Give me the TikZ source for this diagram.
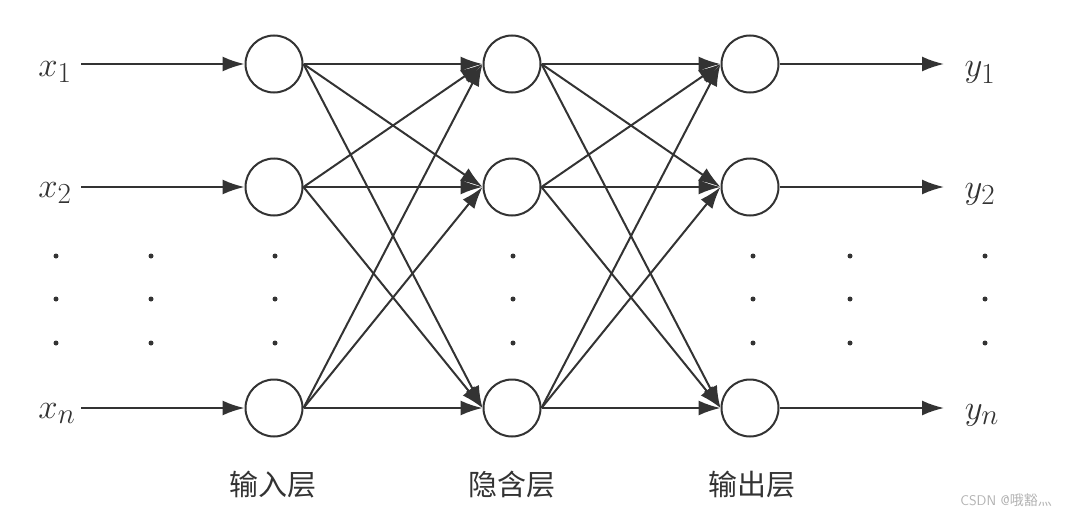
\documentclass[tikz,border=0pt]{standalone}
\usepackage{fontspec}
\newfontfamily\cjk{Noto Sans CJK SC}
\usetikzlibrary{arrows.meta}
\definecolor{ink}{HTML}{333333}
\begin{document}
\begin{tikzpicture}[x=1pt,y=-1pt,
  neuron/.style={circle,draw=ink,line width=2pt,minimum size=57pt,inner sep=0pt},
  conn/.style={draw=ink,line width=2pt,-{Latex[length=22pt,width=15pt]}},
  lbl/.style={text=ink,font=\Huge,scale=1.4,anchor=base,inner sep=0pt},
  layerlbl/.style={text=ink,font=\cjk\fontsize{29}{32}\selectfont,inner sep=0pt},
  dotmark/.style={circle,fill=ink,minimum size=5pt,inner sep=0pt}]
\useasboundingbox (0,0) rectangle (1065,519);
% neurons
\node[neuron] (i1) at (274,64) {};
\node[neuron] (i2) at (274,187) {};
\node[neuron] (i3) at (274,408) {};
\node[neuron] (h1) at (512,64) {};
\node[neuron] (h2) at (512,187) {};
\node[neuron] (h3) at (512,408) {};
\node[neuron] (o1) at (750,64) {};
\node[neuron] (o2) at (750,187) {};
\node[neuron] (o3) at (750,408) {};
% labels
\node[lbl] (x1) at (55,76) {$x_1$};
\node[lbl] (x2) at (55,197) {$x_2$};
\node[lbl] (xn) at (57,418) {$x_n$};
\node[lbl] (y1) at (980,77) {$y_1$};
\node[lbl] (y2) at (980,198) {$y_2$};
\node[lbl] (yn) at (982,419) {$y_n$};
\coordinate (xa1) at (81,64);
\coordinate (xa2) at (81,187);
\coordinate (xa3) at (81,408);
\coordinate (ya1) at (944,64);
\coordinate (ya2) at (944,187);
\coordinate (ya3) at (944,408);
\foreach \k in {1,2,3} {
  \draw[conn] (xa\k) -- (i\k.west);
  \draw[conn] (o\k.east) -- (ya\k);
}
\foreach \a in {1,2,3} {
  \foreach \b in {1,2,3} {
    \draw[conn] (i\a.east) -- (h\b.west);
    \draw[conn] (h\a.east) -- (o\b.west);
  }
}
% dots
\foreach \xx in {56,151,275,513,753,850,985} {
  \foreach \yy in {256,299,343} {
    \node[dotmark] at (\xx,\yy) {};
  }
}
% layer labels
\node[layerlbl] (L1) at (273,485) {输入层};
\node[layerlbl] (L2) at (512,485) {隐含层};
\node[layerlbl] (L3) at (752,485) {输出层};
\node[text=gray!60,font=\fontsize{14}{16}\selectfont\sffamily,anchor=east,inner sep=0pt] (wm) at (1052,500) {CSDN @{\cjk 哦豁灬}};
\end{tikzpicture}
\end{document}
